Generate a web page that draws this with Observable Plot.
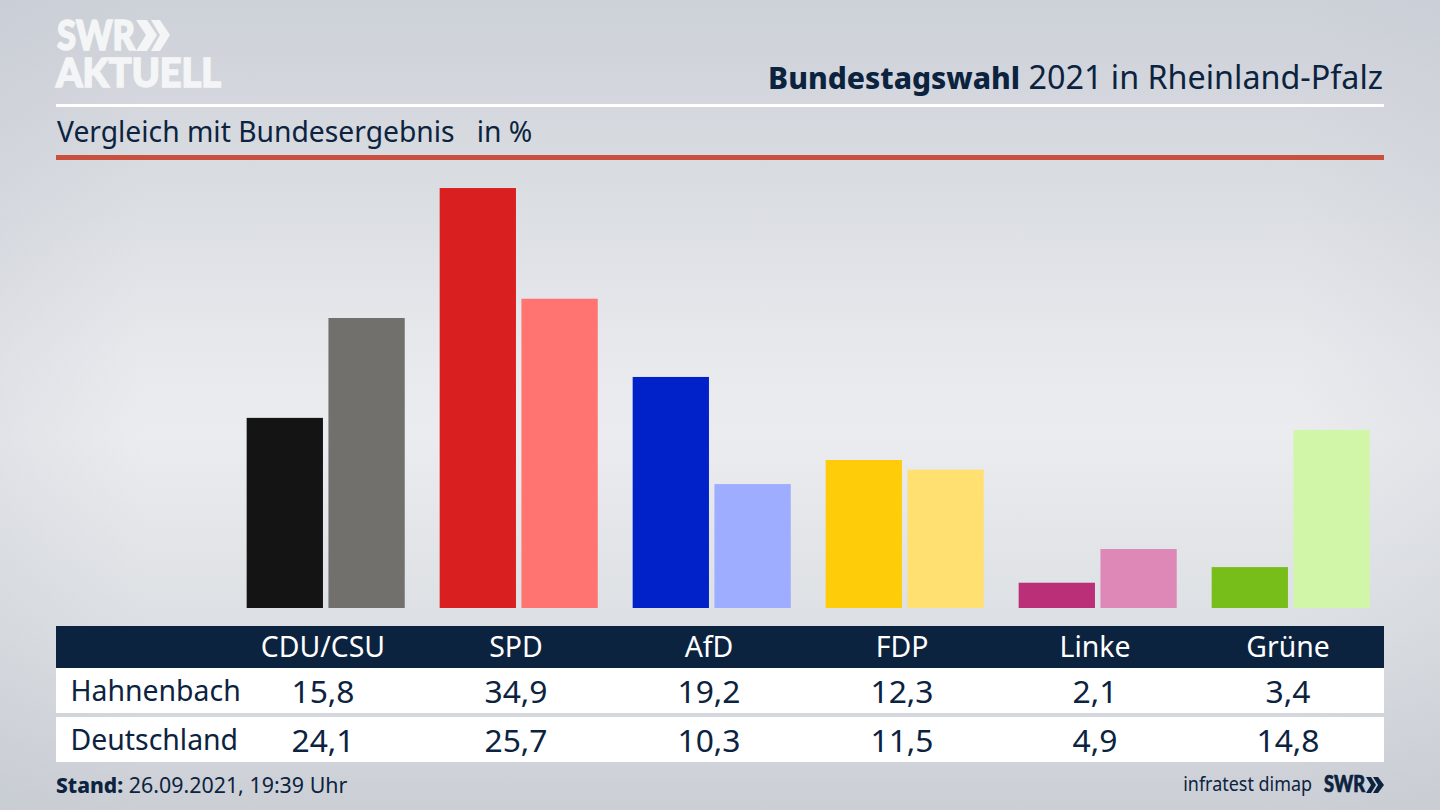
<!DOCTYPE html>
<html lang="de">
<head>
<meta charset="utf-8">
<script src="https://cdn.jsdelivr.net/npm/d3@7"></script>
<script src="https://cdn.jsdelivr.net/npm/@observablehq/plot@0.6"></script>
<style>
html,body{margin:0;padding:0;width:1440px;height:810px;overflow:hidden}
body{position:relative;font-family:"Noto Sans",sans-serif;color:#0c2340;
background:
 linear-gradient(90deg,rgba(190,194,204,.22) 0,rgba(190,194,204,0) 10%,rgba(190,194,204,0) 90%,rgba(190,194,204,.18) 100%),
 linear-gradient(180deg,#cdd1d8 0,#d8dbe0 20%,#e7e9ed 44%,#eaecef 54%,#dcdfe3 78%,#cbcfd5 100%);}
.a{position:absolute;white-space:pre;line-height:1}
#chart{position:absolute;left:0;top:160.3px}
.rule{position:absolute;left:56px;width:1328px}
.cell{position:absolute;transform:translateX(-50%);white-space:pre;line-height:1}
</style>
</head>
<body>
<svg class="a" style="left:0;top:0" width="300" height="100" fill="#f4f5f6" stroke="#f4f5f6">
  <text x="57" y="50" font-family="Lato" font-weight="900" font-size="41" stroke-width="1.6" textLength="78" lengthAdjust="spacingAndGlyphs">SWR</text>
  <polygon stroke="none" points="136,20 147,20 157,35 147,51 136,51 146,35"/>
  <polygon stroke="none" points="151,20 160,20 170,35 160,51 151,51 160,35"/>
  <text x="56" y="87" font-family="Lato" font-weight="900" font-size="40" stroke-width="1.6" textLength="165" lengthAdjust="spacingAndGlyphs">AKTUELL</text>
</svg>
<div class="a" style="right:57px;top:60px;font-size:32.3px"><b style="font-weight:800;font-size:30px">Bundestagswahl</b> 2021 in Rheinland-Pfalz</div>
<div class="rule" style="top:104px;height:3px;background:#fff"></div>
<div class="a" style="left:57px;top:117px;font-size:28.25px">Vergleich mit Bundesergebnis   in %</div>
<div class="rule" style="top:155px;height:5px;background:#c9503e"></div>
<div id="chart"></div>
<div class="rule" style="top:626px;height:42px;background:#0c2340"></div>
<div class="rule" style="top:668px;height:45px;background:#fff"></div>
<div class="rule" style="top:717px;height:45px;background:#fff"></div>
<div id="table"></div>
<div class="a" style="left:56px;top:774px;font-size:21.4px"><b style="font-weight:800;font-size:21px">Stand:</b> 26.09.2021, 19:39 Uhr</div>
<div class="a" style="right:128px;top:774px;font-size:19.5px;transform:scaleX(.92);transform-origin:right center">infratest dimap</div>
<svg class="a" style="left:1320px;top:770px" width="70" height="30" fill="#0c2340" stroke="#0c2340">
  <text x="4" y="22" font-family="Lato" font-weight="900" font-size="22" stroke-width=".7" textLength="41" lengthAdjust="spacingAndGlyphs">SWR</text>
  <polygon stroke="none" points="46,7 51,7 56,15 51,23 46,23 51,15"/>
  <polygon stroke="none" points="53,7 58,7 64,15 58,23 53,23 58,15"/>
</svg>
<script>
const parties = ["CDU/CSU","SPD","AfD","FDP","Linke","Grüne"];
const regions = ["Hahnenbach","Deutschland"];
const hahnenbach = [15.8,34.9,19.2,12.3,2.1,3.4];
const deutschland = [24.1,25.7,10.3,11.5,4.9,14.8];
const colorsLocal = ["#141414","#d91f1f","#0022c8","#ffcc0a","#bb2e78","#78be1a"];
const colorsNational = ["#72706c","#ff7370","#9eadff","#ffe070","#de88b8","#d2f6a8"];

const rows = parties.flatMap((party,i)=>[
  {party,region:regions[0],value:hahnenbach[i],color:colorsLocal[i]},
  {party,region:regions[1],value:deutschland[i],color:colorsNational[i]}
]);

const chart = Plot.plot({
  width:1440,height:448,
  marginTop:0,marginBottom:0,marginLeft:229.2,marginRight:52.8,
  style:{background:"transparent"},
  fx:{domain:parties,axis:null,paddingInner:0.181,paddingOuter:0.0905,round:false},
  x:{domain:regions,axis:null,paddingInner:0.067,paddingOuter:0,round:false},
  y:{domain:[0,37.23],axis:null},
  marks:[Plot.barY(rows,{fx:"party",x:"region",y:"value",fill:"color"})]
});
document.getElementById("chart").append(chart);

const fmt = v=>v.toFixed(1).replace(".",",");
const table = document.getElementById("table");
const colX = parties.map((_,i)=>323+193*i);
function add(text,x,y,size,color,left){
  const d=document.createElement("div");
  d.className=left?"a":"cell";
  d.textContent=text;
  d.style.cssText+=`left:${x}px;top:${y}px;font-size:${size}px;color:${color}`;
  table.append(d);
}
parties.forEach((p,i)=>{
  add(p,colX[i],632,28.4,"#fff");
  add(fmt(hahnenbach[i]),colX[i],675,31.8,"#0c2340");
  add(fmt(deutschland[i]),colX[i],724,31.8,"#0c2340");
});
add(regions[0],70.5,676,28.4,"#0c2340",true);
add(regions[1],70.5,725,28.4,"#0c2340",true);
</script>
</body>
</html>
